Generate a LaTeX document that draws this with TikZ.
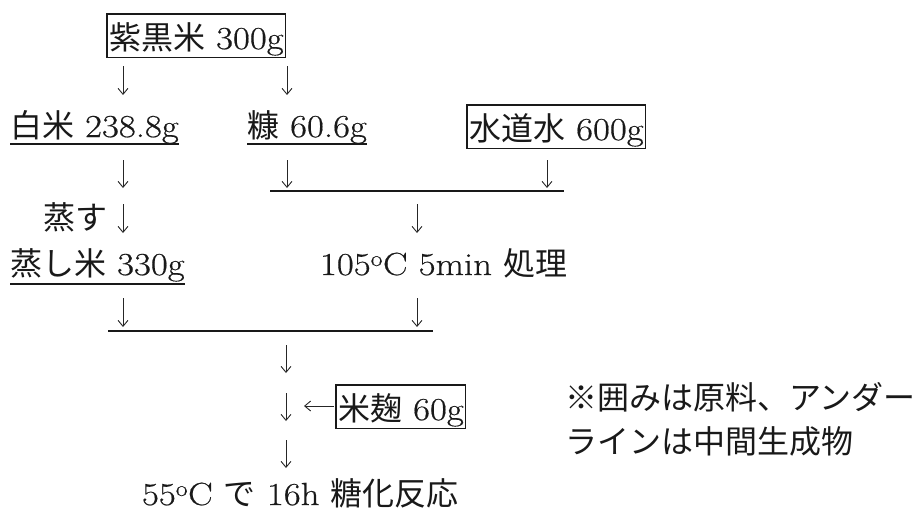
\documentclass[tikz,border=0pt]{standalone}
\usepackage{fontspec}
\setmainfont{Latin Modern Roman}[FakeStretch=1.15, FakeBold=0.5]
\newfontfamily\jp{Noto Sans CJK JP}
\usetikzlibrary{arrows.meta}
\begin{document}
\begin{tikzpicture}[x=1pt,y=-1pt,
  every node/.style={font=\fontsize{32}{38}\selectfont, inner sep=0pt, outer sep=0pt, anchor=base west, text=black!90},
  rawbox/.style={draw=black!90, line width=1.2pt, inner xsep=2pt, inner ysep=4pt, text height=31pt, text depth=4.5pt},
  darr/.style={draw=black!85, line width=0.9pt, -{Straight Barb[length=6pt,width=10pt,line width=0.9pt]}},
  uline/.style={draw=black!90, line width=1.2pt},
  joinline/.style={draw=black!90, line width=1.4pt}]
\useasboundingbox (0,0) rectangle (921,514);

% nodes
\node[rawbox] (kokumai) at (107,49) {{\jp 紫黒米} 300g};
\node (hakumai) at (10,137) {{\jp 白米} 238.8g};
\node (nuka) at (247,137) {{\jp 糠} 60.6g};
\node[rawbox] (water) at (467,140) {{\jp 水道水} 600g};
\node (musu) at (43,229) {\jp 蒸す};
\node (mushimai) at (10,275) {{\jp 蒸し米} 330g};
\node (shori) at (320,275) {105\textsuperscript{o}C 5min {\jp 処理}};
\node[rawbox] (koji) at (336,420) {{\jp 米麹} 60g};
\node (toka) at (142,505) {55\textsuperscript{o}C {\jp で} 16h {\jp 糖化反応}};
\node (note1) at (565,409) {\jp ※囲みは原料、アンダー};
\node (note2) at (565,453) {\jp ラインは中間生成物};

% underlines
\draw[uline] ([yshift=-7pt]hakumai.base west) -- ([yshift=-7pt]hakumai.base east);
\draw[uline] ([yshift=-7pt]nuka.base west) -- ([yshift=-7pt]nuka.base east);
\draw[uline] ([yshift=-9pt]mushimai.base west) -- ([yshift=-9pt]mushimai.base east);

% arrow end points
\coordinate (a1s) at (123,66);  \coordinate (a1e) at (123,95);
\coordinate (a2s) at (287,66);  \coordinate (a2e) at (287,95);
\coordinate (a3s) at (123,160); \coordinate (a3e) at (123,188);
\coordinate (a4s) at (287,160); \coordinate (a4e) at (287,188);
\coordinate (a5s) at (547,160); \coordinate (a5e) at (547,188);
\coordinate (a6s) at (123,204); \coordinate (a6e) at (123,233);
\coordinate (a7s) at (417,204); \coordinate (a7e) at (417,233);
\coordinate (a8s) at (123,298); \coordinate (a8e) at (123,327);
\coordinate (a9s) at (417,298); \coordinate (a9e) at (417,327);
\coordinate (a10s) at (286,345); \coordinate (a10e) at (286,373);
\coordinate (a11s) at (286,393); \coordinate (a11e) at (286,421);
\coordinate (a12s) at (286,440); \coordinate (a12e) at (286,468);
\coordinate (ka) at (304,406);

\foreach \i in {1,...,12} \draw[darr] (a\i s) -- (a\i e);
\draw[darr] (koji.west |- ka) ++(-2,0) -- (ka);

% joining lines
\coordinate (j1l) at (270,191); \coordinate (j1r) at (564,191);
\coordinate (j2l) at (108,331); \coordinate (j2r) at (433,331);
\draw[joinline] (j1l) -- (j1r);
\draw[joinline] (j2l) -- (j2r);
\end{tikzpicture}
\end{document}
